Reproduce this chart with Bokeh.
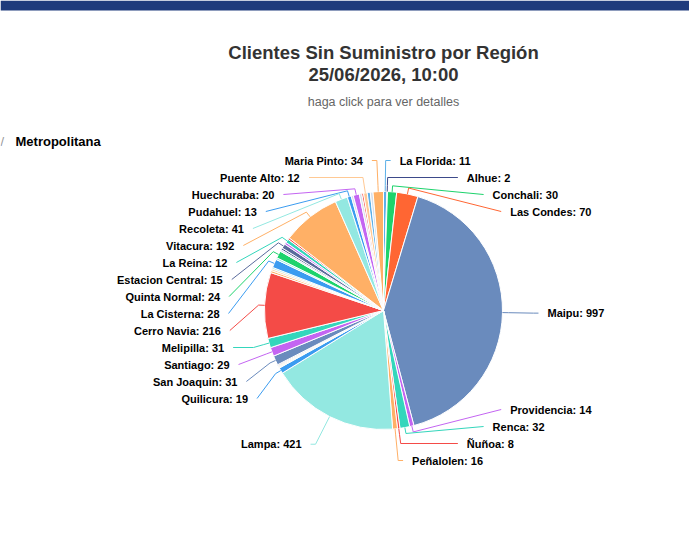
import math

from bokeh.core.properties import value
from bokeh.embed import file_html
from bokeh.models import Range1d
from bokeh.plotting import figure
from bokeh.resources import INLINE

W, H = 689, 542

# Communes in clockwise order from 12 o'clock ("" = slice whose label is hidden)
comunas = [
    "La Florida", "Alhue", "Conchali", "Las Condes", "Maipu", "Providencia",
    "Renca", "Ñuñoa", "Peñalolen", "Lampa", "Quilicura", "", "", "", "",
    "San Joaquin", "Santiago", "Melipilla", "Cerro Navia", "", "", "",
    "La Cisterna", "", "Quinta Normal", "", "", "Estacion Central", "",
    "La Reina", "", "Vitacura", "Recoleta", "Pudahuel", "", "Huechuraba",
    "", "", "Puente Alto", "", "", "Maria Pinto",
]
clientes = [
    11, 2, 30, 70, 997, 14,
    32, 8, 16, 421, 19, 3, 3, 3, 3,
    31, 29, 31, 216, 7, 6, 5,
    28, 6, 24, 6, 6, 15, 7,
    12, 6, 192, 41, 13, 7, 20,
    8, 6, 12, 10, 9, 34,
]
colores = [
    "#5cb0e8", "#3d4a8a", "#1dd36c", "#ff6633", "#6a8bbd", "#c465f2",
    "#34d6bc", "#f44b47", "#ffb066", "#93e8e1", "#3b9cf0", "#ffd3a8", "#93e8e1", "#ffb066", "#3d4a8a",
    "#6a8bbd", "#c465f2", "#34d6bc", "#f44b47", "#ffb066", "#ffd3a8", "#93e8e1",
    "#3b9cf0", "#93e8e1", "#1dd36c", "#d6deea", "#3d4a8a", "#5a6b9c", "#c465f2",
    "#34d6bc", "#f44b47", "#ffb066", "#93e8e1", "#3b9cf0", "#d6deea", "#c465f2",
    "#d6deea", "#f44b47", "#ffc994", "#5cb0e8", "#d6deea", "#ffb066",
]

titulo = "Clientes Sin Suministro por Región"
fecha = "25/06/2026, 10:00"
subtitulo = "haga click para ver detalles"
region = "Metropolitana"

# pie geometry (pixels, y measured downward from the top of the page)
CX, CY, RAD = 383, 310, 119
DIST = 31          # label distance from the rim
PAD = 5            # label padding
GAP = 9            # connector end to text
ROW = 17           # label row height
FONT = "Liberation Sans"


def Y(y):
    return H - y


p = figure(width=W, height=H, x_range=Range1d(0, W), y_range=Range1d(0, H),
           toolbar_location=None, output_backend="svg", min_border=0,
           background_fill_color="white", border_fill_color="white")
p.axis.visible = False
p.grid.visible = False
p.outline_line_color = None

# header bar
p.quad(left=0, right=W, bottom=Y(10), top=Y(0), fill_color="#1f3b7c", line_color=None)

# slices
total = float(sum(clientes))
starts, ends, acc = [], [], 0.0
for v in clientes:
    starts.append(acc / total * 2 * math.pi)
    acc += v
    ends.append(acc / total * 2 * math.pi)

p.wedge(x=CX, y=Y(CY), radius=RAD,
        start_angle=[math.pi / 2 - s for s in starts],
        end_angle=[math.pi / 2 - e for e in ends],
        direction="clock", fill_color=colores, line_color="white", line_width=1)

# data labels
RL = RAD + DIST
lo, hi = CY - RL, CY + RL


def distribute(items):
    """Spread labels vertically so rows don't overlap, staying near their natural y."""
    items = sorted(items, key=lambda d: d["ny"])
    groups = [{"m": [d], "start": d["ny"]} for d in items]

    def place(g):
        k = len(g["m"])
        s = sum(d["ny"] for d in g["m"]) / k - (k - 1) * ROW / 2
        g["start"] = min(max(s, lo), hi - (k - 1) * ROW)

    for g in groups:
        place(g)
    changed = True
    while changed:
        changed = False
        for i in range(len(groups) - 1):
            a, b = groups[i], groups[i + 1]
            if a["start"] + len(a["m"]) * ROW > b["start"] + 0.01:
                a["m"] += b["m"]
                place(a)
                del groups[i + 1]
                changed = True
                break
    for g in groups:
        for j, d in enumerate(g["m"]):
            d["y"] = g["start"] + j * ROW
    return items


labels = []
for i, name in enumerate(comunas):
    if not name:
        continue
    th = (starts[i] + ends[i]) / 2
    labels.append(dict(i=i, th=th, name=name,
                       ny=CY - RL * math.cos(th),
                       left=th >= math.pi))

right = distribute([d for d in labels if not d["left"]])
left = distribute([d for d in labels if d["left"]])

tx, ty, tt, ta = [], [], [], []
lx, ly, lc = [], [], []
for d in right + left:
    y = d["y"]
    yy = d["ny"] if (y < lo + 2 or y > hi - 2) else y
    dy = max(-1.0, min(1.0, (yy - CY) / RL))
    sgn = -1 if d["left"] else 1
    xc = CX + sgn * (math.cos(math.asin(dy)) * RL + PAD)
    th = d["th"]
    bx, by = CX + (RAD + 6) * math.sin(th), CY - (RAD + 6) * math.cos(th)
    sx, sy = CX + RAD * math.sin(th), CY - RAD * math.cos(th)
    path = [(xc, y)]
    crook = CX + (CY - y) * math.tan(th)
    if (not d["left"] and bx <= crook <= xc) or (d["left"] and xc <= crook <= bx):
        path.append((crook, y))
    path += [(bx, by), (sx, sy)]
    lx.append([q[0] for q in path])
    ly.append([Y(q[1]) for q in path])
    lc.append(colores[d["i"]])
    tx.append(xc + sgn * GAP)
    ty.append(Y(y))
    tt.append(f"{d['name']}: {clientes[d['i']]}")
    ta.append("right" if d["left"] else "left")

p.multi_line(xs=lx, ys=ly, line_color=lc, line_width=1)
p.text(x=tx, y=ty, text=tt, text_align=ta, text_baseline="middle",
       text_font=value(FONT), text_font_style="bold", text_font_size="11px",
       text_color="#000000")

# titles
p.text(x=[CX, CX], y=[Y(52), Y(74)], text=[titulo, fecha], text_align="center",
       text_baseline="middle", text_font=value(FONT), text_font_style="bold",
       text_font_size="18.5px", text_color="#333333")
p.text(x=[CX], y=[Y(101)], text=[subtitulo], text_align="center",
       text_baseline="middle", text_font=value(FONT), text_font_size="12.5px",
       text_color="#666666")

# drilldown breadcrumb
p.text(x=[0], y=[Y(141)], text=["/"], text_align="left", text_baseline="middle",
       text_font=value(FONT), text_font_size="13px", text_color="#999999")
p.text(x=[15], y=[Y(141)], text=[region], text_align="left", text_baseline="middle",
       text_font=value(FONT), text_font_style="bold", text_font_size="13px",
       text_color="#000000")

open("out.html", "w").write(file_html(p, INLINE))
